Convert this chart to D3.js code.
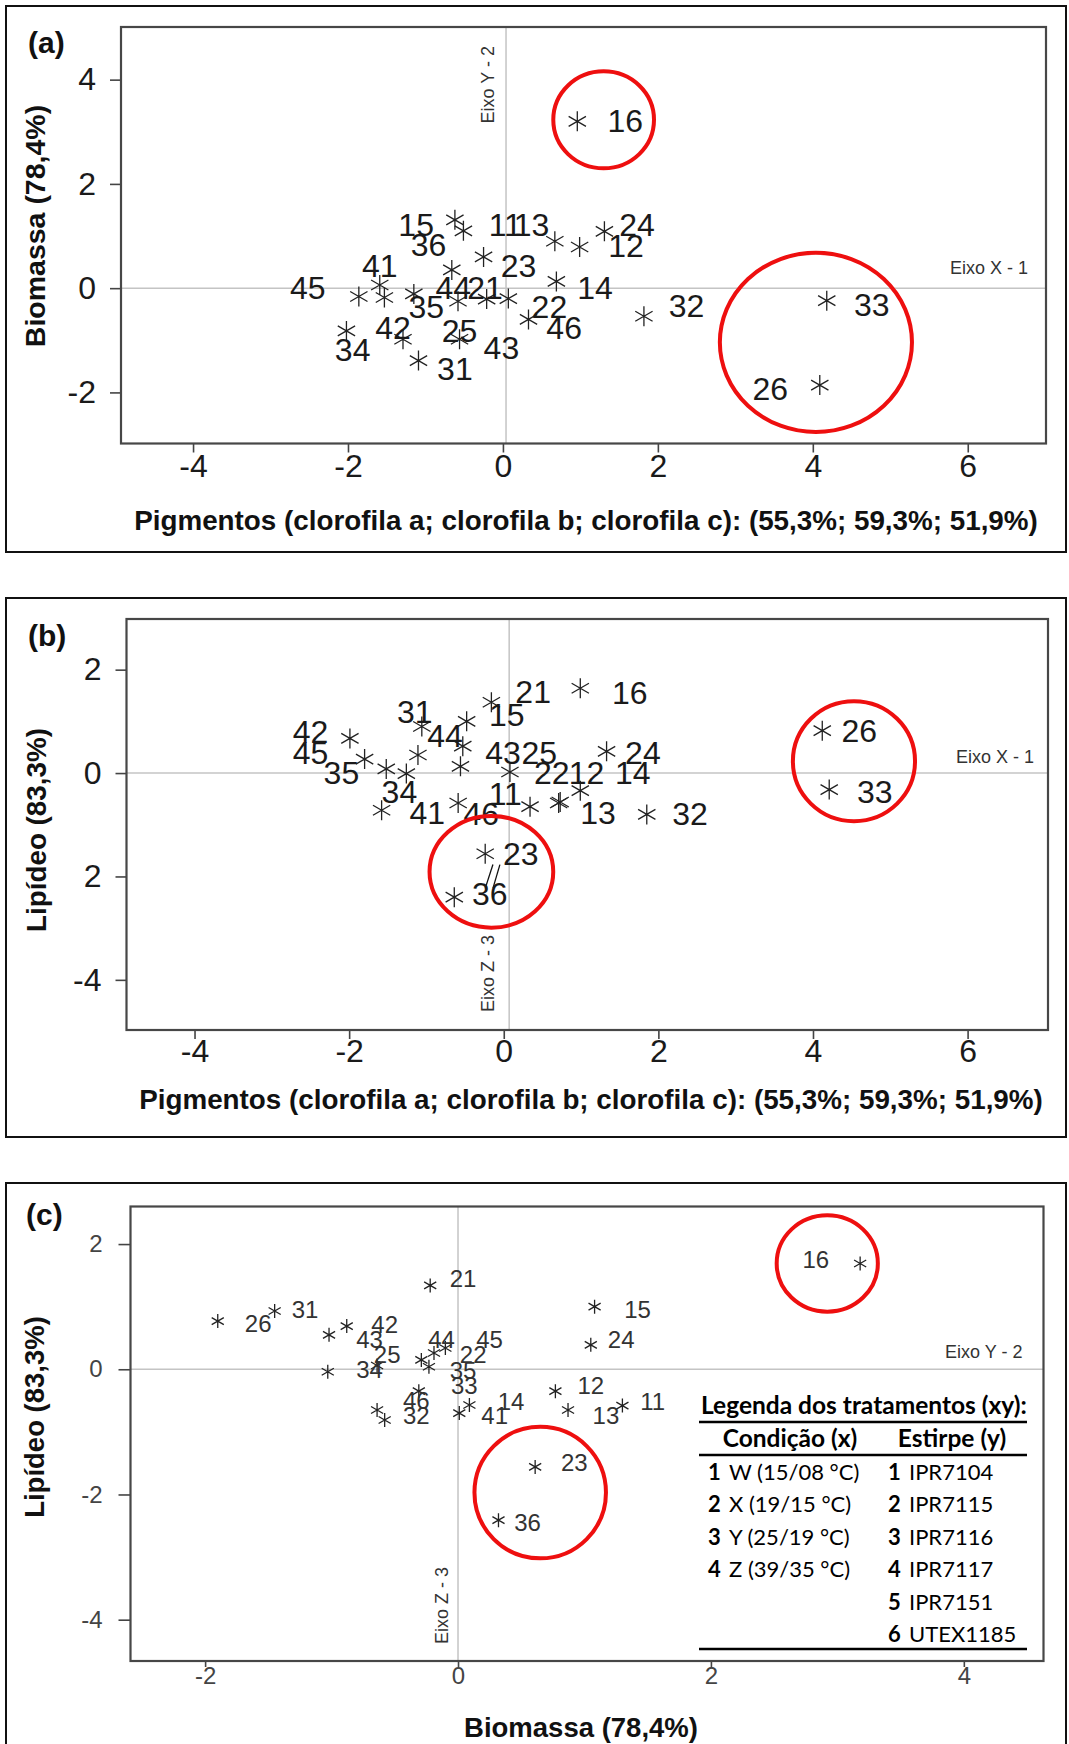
<!DOCTYPE html>
<html>
<head>
<meta charset="utf-8">
<script src="https://cdn.jsdelivr.net/npm/d3@7"></script>
<style>
body { margin: 0; background: #fff; }
svg { display: block; }
</style>
</head>
<body>
<svg id="fig" width="1069" height="1744"></svg>
<script>
// ---------------- data ----------------
// (a) Pigmentos (x) vs Biomassa (y)
var labelsA = ["15","11","13","12","24","23","36","14","45","41","46","35","44","21","43","22","32","34","42","25","31","16","33","26"];
var xA  = [-0.62,-0.51, 0.67, 0.99, 1.31,-0.25,-0.66, 0.69,-1.86,-1.59,-1.53,-1.15,-0.58,-0.21, 0.07, 0.33, 1.82,-2.02,-1.29,-0.56,-1.09, 0.96, 4.18, 4.09];
var yA  = [ 1.31, 1.10, 0.90, 0.79, 1.09, 0.60, 0.35, 0.13,-0.16, 0.06,-0.18,-0.11,-0.25,-0.21,-0.20,-0.60,-0.54,-0.82,-0.98,-0.98,-1.39, 3.20,-0.24,-1.86];
var lxA = [-1.12, 0.03, 0.37, 1.59, 1.73, 0.20,-0.96, 1.19,-2.52,-1.59, 0.79,-0.99,-0.64,-0.23,-0.02, 0.60, 2.37,-1.94,-1.42,-0.56,-0.62, 1.58, 4.76, 3.45];
var lyA = [ 1.23, 1.22, 1.22, 0.82, 1.23, 0.44, 0.84, 0.02, 0.02, 0.44,-0.76,-0.35, 0.01, 0.01,-1.14,-0.35,-0.34,-1.17,-0.76,-0.82,-1.55, 3.22,-0.32,-1.92];
var xTicksA = [-4, -2, 0, 2, 4, 6];
var yTicksA = [-2, 0, 2, 4];
var originA = [0.04, 0];   // where the "Eixo" reference lines cross
// highlighted groups: centre and half-axes in data units
var ringXA = [1.30, 4.04], ringYA = [3.23, -1.04], ringRxA = [0.65, 1.24], ringRyA = [0.93, 1.72];

// (b) Pigmentos (x) vs Lipideo (y)
var labelsB = ["16","21","15","31","42","44","45","35","34","43","25","22","12","14","24","11","41","46","13","32","23","36","26","33"];
var xB  = [ 0.99,-0.16,-0.48,-1.06,-1.99,-0.53,-1.80,-1.52,-1.26,-0.56, 0.08,-1.11, 0.71, 0.99, 1.33, 0.34,-1.58,-0.59, 0.73, 1.85,-0.24,-0.64, 4.12, 4.21];
var yB  = [ 1.64, 1.37, 1.00, 0.90, 0.67, 0.52, 0.27, 0.08,-0.01, 0.13, 0.02, 0.35,-0.58,-0.34, 0.42,-0.65,-0.72,-0.58,-0.56,-0.80,-1.56,-2.40, 0.82,-0.32];
var lxB = [ 1.63, 0.38, 0.04,-1.15,-2.50,-0.76,-2.50,-2.10,-1.35,-0.01, 0.46, 0.62, 1.07, 1.67, 1.80, 0.02,-0.99,-0.29, 1.22, 2.41, 0.22,-0.18, 4.60, 4.80];
var lyB = [ 1.56, 1.57, 1.14, 1.19, 0.81, 0.73, 0.40, 0.02,-0.36, 0.40, 0.40, 0.02, 0.02, 0.02, 0.40,-0.39,-0.76,-0.78,-0.77,-0.78,-1.56,-2.32, 0.82,-0.36];
var xTicksB = [-4, -2, 0, 2, 4, 6];
var yTicksB = [-4, -2, 0, 2];
var yTickTextB = ["-4", "2", "0", "2"];
var originB = [0.07, 0];
var ringXB = [4.53, -0.16], ringYB = [0.23, -1.91], ringRxB = [0.79, 0.80], ringRyB = [1.16, 1.08];
// the two short leader strokes between 23 and 36
var leadX1B = [-0.14, -0.05], leadY1B = [-1.77, -1.77], leadX2B = [-0.24, -0.14], leadY2B = [-2.23, -2.23];

// (c) Biomassa (x) vs Lipideo (y)
var labelsC = ["21","26","31","43","42","34","25","44","45","22","35","33","46","32","41","14","12","13","11","15","24","23","36","16"];
var xC  = [-0.22,-1.90,-1.45,-1.02,-0.88,-1.03,-0.64,-0.19,-0.10,-0.29,-0.23,-0.64,-0.31,-0.58, 0.01, 0.09, 0.77, 0.87, 1.30, 1.08, 1.05, 0.61, 0.32, 3.18];
var yC  = [ 1.34, 0.77, 0.93, 0.55, 0.69,-0.04, 0.06, 0.26, 0.34, 0.15, 0.04,-0.65,-0.35,-0.81,-0.70,-0.57,-0.35,-0.65,-0.58, 1.00, 0.39,-1.56,-2.41, 1.69];
var lxC = [ 0.04,-1.58,-1.21,-0.70,-0.58,-0.70,-0.56,-0.13, 0.25, 0.12, 0.04, 0.05,-0.33,-0.33, 0.29, 0.42, 1.05, 1.17, 1.54, 1.42, 1.29, 0.92, 0.55, 2.83];
var lyC = [ 1.45, 0.73, 0.95, 0.48, 0.72, 0.00, 0.24, 0.48, 0.48, 0.24,-0.01,-0.25,-0.49,-0.74,-0.74,-0.51,-0.26,-0.74,-0.51, 0.96, 0.48,-1.48,-2.45, 1.75];
var xTicksC = [-2, 0, 2, 4];
var yTicksC = [-4, -2, 0, 2];
var originC = [0, 0];
var ringXC = [2.92, 0.65], ringYC = [1.69, -1.97], ringRxC = [0.40, 0.52], ringRyC = [0.77, 1.05];

// legend of treatments (xy)
var conditionCodes = ["1", "2", "3", "4"];
var conditionNames = ["W (15/08 °C)", "X (19/15 °C)", "Y (25/19 °C)", "Z (39/35 °C)"];
var strainCodes = ["1", "2", "3", "4", "5", "6"];
var strainNames = ["IPR7104", "IPR7115", "IPR7116", "IPR7117", "IPR7151", "UTEX1185"];

var pigmentTitle = "Pigmentos (clorofila a; clorofila b; clorofila c): (55,3%; 59,3%; 51,9%)";

////////////////////////////////////////////////////////////////////////////////

var FONT = "'Liberation Sans', Arial, sans-serif";
var svg = d3.select("#fig");
svg.append("rect").attr("width", 1069).attr("height", 1744).attr("fill", "#fff");

function asteriskPath(r) {
    var c = r * Math.cos(Math.PI / 6), s = r * Math.sin(Math.PI / 6);
    return "M0," + (-r) + "L0," + r +
        "M" + (-c) + "," + (-s) + "L" + c + "," + s +
        "M" + (-c) + "," + s + "L" + c + "," + (-s);
}

function drawPanel(p) {
    var g = svg.append("g");
    var box = p.plot;

    g.append("rect")
        .attr("x", p.frame[0]).attr("y", p.frame[1])
        .attr("width", p.frame[2] - p.frame[0]).attr("height", p.frame[3] - p.frame[1])
        .attr("fill", "none").attr("stroke", "#111").attr("stroke-width", 2);

    var x = d3.scaleLinear().domain(p.xDomain).range([box.left, box.right]);
    var y = d3.scaleLinear().domain(p.yDomain).range([box.bottom, box.top]);
    var ox = x(p.origin[0]), oy = y(p.origin[1]);

    // reference axes through the origin
    g.append("line")
        .attr("x1", ox).attr("x2", ox).attr("y1", box.top).attr("y2", box.bottom)
        .attr("stroke", "#c4c4c4").attr("stroke-width", 1.5);
    g.append("line")
        .attr("x1", box.left).attr("x2", box.right).attr("y1", oy).attr("y2", oy)
        .attr("stroke", "#c4c4c4").attr("stroke-width", 1.5);

    var xAxis = g.append("g")
        .attr("transform", "translate(0," + box.bottom + ")")
        .call(d3.axisBottom(x).tickValues(p.xTicks).tickSize(p.xTickLen).tickPadding(p.xPad)
            .tickFormat(function(d) { return d3.format("d")(d).replace("−", "-"); }));
    var yAxis = g.append("g")
        .attr("transform", "translate(" + box.left + ",0)")
        .call(d3.axisLeft(y).tickValues(p.yTicks).tickSize(p.yTickLen).tickPadding(p.yPad)
            .tickFormat(function(d, i) { return p.yTickText ? p.yTickText[i] : d3.format("d")(d).replace("−", "-"); }));
    [xAxis, yAxis].forEach(function(ax) {
        ax.select(".domain").remove();
        ax.attr("font-family", FONT).attr("font-size", p.tickFont);
        ax.selectAll("line").attr("stroke", "#444").attr("stroke-width", 1.6);
        ax.selectAll("text").attr("fill", p.tickColor);
    });

    g.append("rect")
        .attr("x", box.left).attr("y", box.top)
        .attr("width", box.right - box.left).attr("height", box.bottom - box.top)
        .attr("fill", "none").attr("stroke", "#474747").attr("stroke-width", 2.2);

    // small axis-name notes
    p.notes.forEach(function(n) {
        var t = g.append("text")
            .attr("font-family", FONT).attr("font-size", 18).attr("fill", "#333")
            .attr("text-anchor", n.anchor).text(n.text);
        if (n.vertical) {
            t.attr("transform", "translate(" + (ox + n.dx) + "," + n.y + ") rotate(-90)");
        } else {
            t.attr("x", box.right + n.dx).attr("y", oy + n.dy);
        }
    });

    // leader strokes
    if (p.lead) {
        g.selectAll("line.lead").data(d3.range(p.lead.x1.length)).join("line")
            .attr("class", "lead")
            .attr("x1", function(i) { return x(p.lead.x1[i]); })
            .attr("y1", function(i) { return y(p.lead.y1[i]); })
            .attr("x2", function(i) { return x(p.lead.x2[i]); })
            .attr("y2", function(i) { return y(p.lead.y2[i]); })
            .attr("stroke", "#111").attr("stroke-width", 1.3);
    }

    var idx = d3.range(p.labels.length);
    g.selectAll("path.pt").data(idx).join("path")
        .attr("class", "pt")
        .attr("transform", function(i) { return "translate(" + x(p.px[i]) + "," + y(p.py[i]) + ")"; })
        .attr("d", asteriskPath(p.starR))
        .attr("fill", "none").attr("stroke", "#222").attr("stroke-width", 1.3);

    g.selectAll("text.lab").data(idx).join("text")
        .attr("class", "lab")
        .attr("x", function(i) { return x(p.lx[i]); })
        .attr("y", function(i) { return y(p.ly[i]); })
        .attr("dy", "0.36em")
        .attr("text-anchor", "middle")
        .attr("font-family", FONT).attr("font-size", p.labFont).attr("fill", p.labColor)
        .text(function(i) { return p.labels[i]; });

    g.selectAll("ellipse.ring").data(d3.range(p.ring.x.length)).join("ellipse")
        .attr("class", "ring")
        .attr("cx", function(i) { return x(p.ring.x[i]); })
        .attr("cy", function(i) { return y(p.ring.y[i]); })
        .attr("rx", function(i) { return x(p.ring.x[i] + p.ring.rx[i]) - x(p.ring.x[i]); })
        .attr("ry", function(i) { return y(p.ring.y[i] - p.ring.ry[i]) - y(p.ring.y[i]); })
        .attr("fill", "none").attr("stroke", "#ee0f0f").attr("stroke-width", 4);

    // titles
    g.append("text")
        .attr("x", p.xTitle.x).attr("y", p.xTitle.y)
        .attr("text-anchor", "middle")
        .attr("font-family", FONT).attr("font-size", p.xTitle.size).attr("font-weight", "bold").attr("fill", "#111")
        .text(p.xTitle.text);
    g.append("text")
        .attr("transform", "translate(" + p.yTitle.x + "," + p.yTitle.y + ") rotate(-90)")
        .attr("text-anchor", "middle")
        .attr("font-family", FONT).attr("font-size", p.yTitle.size).attr("font-weight", "bold").attr("fill", "#111")
        .text(p.yTitle.text);
    g.append("text")
        .attr("x", p.tag.x).attr("y", p.tag.y)
        .attr("font-family", FONT).attr("font-size", 30).attr("font-weight", "bold").attr("fill", "#111")
        .text(p.tag.text);
    return {x: x, y: y};
}

drawPanel({
    frame: [6, 6, 1066, 552],
    plot: {left: 121, right: 1046, top: 27, bottom: 443.5},
    xDomain: [-4.93, 7.01], yDomain: [-2.98, 5.01], origin: originA,
    xTicks: xTicksA, yTicks: yTicksA,
    xTickLen: 9, xPad: 2, yTickLen: 11, yPad: 14, tickFont: 32, tickColor: "#1a1a1a",
    labels: labelsA, px: xA, py: yA, lx: lxA, ly: lyA,
    starR: 10, labFont: 32, labColor: "#1a1a1a",
    ring: {x: ringXA, y: ringYA, rx: ringRxA, ry: ringRyA},
    notes: [{text: "Eixo Y - 2", vertical: true, dx: -12, y: 46, anchor: "end"},
            {text: "Eixo X - 1", dx: -18, dy: -14, anchor: "end"}],
    xTitle: {text: pigmentTitle, x: 586, y: 530, size: 27.8},
    yTitle: {text: "Biomassa (78,4%)", x: 45, y: 226, size: 28.5},
    tag: {text: "(a)", x: 28, y: 53}
});

drawPanel({
    frame: [6, 598, 1066, 1137],
    plot: {left: 126.5, right: 1048, top: 619, bottom: 1030},
    xDomain: [-4.88, 7.04], yDomain: [-4.97, 2.98], origin: originB,
    xTicks: xTicksB, yTicks: yTicksB, yTickText: yTickTextB,
    xTickLen: 9, xPad: 0, yTickLen: 11, yPad: 14, tickFont: 32, tickColor: "#1a1a1a",
    labels: labelsB, px: xB, py: yB, lx: lxB, ly: lyB,
    starR: 10, labFont: 32, labColor: "#1a1a1a",
    ring: {x: ringXB, y: ringYB, rx: ringRxB, ry: ringRyB},
    lead: {x1: leadX1B, y1: leadY1B, x2: leadX2B, y2: leadY2B},
    notes: [{text: "Eixo Z - 3", vertical: true, dx: -15, y: 1012, anchor: "start"},
            {text: "Eixo X - 1", dx: -14, dy: -10, anchor: "end"}],
    xTitle: {text: pigmentTitle, x: 591, y: 1109, size: 27.8},
    yTitle: {text: "Lipídeo (83,3%)", x: 46, y: 830, size: 27.8},
    tag: {text: "(b)", x: 28, y: 646}
});

drawPanel({
    frame: [6, 1183, 1066, 1800],
    plot: {left: 130.5, right: 1043.5, top: 1206.5, bottom: 1661},
    xDomain: [-2.59, 4.63], yDomain: [-4.66, 2.60], origin: originC,
    xTicks: xTicksC, yTicks: yTicksC,
    xTickLen: 6, xPad: 0, yTickLen: 12, yPad: 16, tickFont: 24, tickColor: "#444",
    labels: labelsC, px: xC, py: yC, lx: lxC, ly: lyC,
    starR: 7, labFont: 24, labColor: "#333",
    ring: {x: ringXC, y: ringYC, rx: ringRxC, ry: ringRyC},
    notes: [{text: "Eixo Z - 3", vertical: true, dx: -10, y: 1644, anchor: "start"},
            {text: "Eixo Y - 2", dx: -21, dy: -11, anchor: "end"}],
    xTitle: {text: "Biomassa (78,4%)", x: 581, y: 1737, size: 27.5},
    yTitle: {text: "Lipídeo (83,3%)", x: 44, y: 1417, size: 27.5},
    tag: {text: "(c)", x: 26, y: 1225}
});

// legend table inside panel (c)
var LEG = "Lato, 'Open Sans', sans-serif";
var leg = svg.append("g").attr("font-family", LEG).attr("fill", "#000");
leg.append("text").attr("x", 701).attr("y", 1414)
    .attr("font-size", 24.5).attr("font-weight", "bold")
    .text("Legenda dos tratamentos (xy):");
leg.append("text").attr("x", 790).attr("y", 1447).attr("text-anchor", "middle")
    .attr("font-size", 24.5).attr("font-weight", "bold").text("Condição (x)");
leg.append("text").attr("x", 952).attr("y", 1447).attr("text-anchor", "middle")
    .attr("font-size", 24.5).attr("font-weight", "bold").text("Estirpe (y)");
[1422, 1455, 1649].forEach(function(yy) {
    leg.append("line").attr("x1", 699).attr("x2", 1027).attr("y1", yy).attr("y2", yy)
        .attr("stroke", "#000").attr("stroke-width", 2.4);
});
var rowY = d3.scaleLinear().domain([0, 5]).range([1480, 1642]);
leg.selectAll("text.cond").data(d3.range(conditionCodes.length)).join("text")
    .attr("class", "cond").attr("y", function(i) { return rowY(i); }).attr("font-size", 22)
    .each(function(i) {
        var t = d3.select(this);
        t.append("tspan").attr("x", 708).attr("font-weight", "bold").text(conditionCodes[i]);
        t.append("tspan").attr("x", 729).text(conditionNames[i]);
    });
leg.selectAll("text.strain").data(d3.range(strainCodes.length)).join("text")
    .attr("class", "strain").attr("y", function(i) { return rowY(i); }).attr("font-size", 22)
    .each(function(i) {
        var t = d3.select(this);
        t.append("tspan").attr("x", 888).attr("font-weight", "bold").text(strainCodes[i]);
        t.append("tspan").attr("x", 909).text(strainNames[i]);
    });
</script>
</body>
</html>
